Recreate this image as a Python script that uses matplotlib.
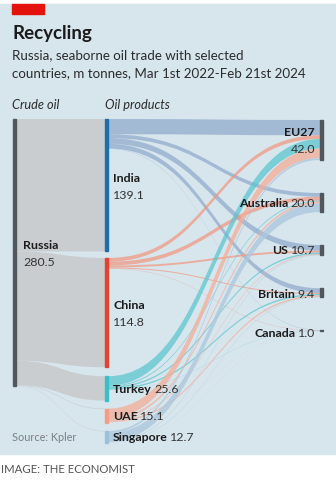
import matplotlib.pyplot as plt
from matplotlib.path import Path
from matplotlib.patches import PathPatch, Rectangle

plt.rcParams['font.family'] = ['Lato', 'DejaVu Sans']

# data (m tonnes)
crude_source = "Russia"
crude_total = 280.5
mid_names = ["India", "China", "Turkey", "UAE", "Singapore"]
mid_values = [139.1, 114.8, 25.6, 15.1, 12.7]
crude_flows = [139.1, 114.8, 25.6, 0.6, 0.4]   # Russia -> each
right_names = ["EU27", "Australia", "US", "Britain", "Canada"]
right_values = [42.0, 20.0, 10.7, 9.4, 1.0]
# product flows: rows = mid_names, cols = right_names
product_flows = [
    [16.0, 4.0, 6.0, 5.0, 0.3],   # India
    [4.0, 4.0, 2.0, 1.0, 0.3],    # China
    [10.0, 1.0, 1.5, 1.5, 0.2],   # Turkey
    [10.0, 2.0, 0.7, 1.5, 0.1],   # UAE
    [2.0, 9.0, 0.5, 0.4, 0.1],    # Singapore
]

# layout (pixel coordinates)
W, H = 336, 485
SCALE = 0.952
TOP = 120
x_left, x_mid, x_right = 13, 105, 320
bar_w = 3
mid_gaps = [6.5, 9, 8, 8]
right_gap = 33

bg = "#d7e5ed"
mid_colors = ["#1f6ea7", "#e2422f", "#3dbec7", "#f39c86", "#9bc0da"]
flow_colors = ["#88a3c8", "#f3947a", "#55c4cd", "#f5ad97", "#adc8dd"]
flow_alpha = [0.65, 0.7, 0.7, 0.75, 0.8]
crude_color = "#c9cdcf"
node_dark = "#51585d"
txt = "#1b1b1b"

fig = plt.figure(figsize=(W / 100, H / 100), dpi=100)
ax = fig.add_axes([0, 0, 1, 1])
ax.set_xlim(0, W)
ax.set_ylim(H, 0)
ax.axis("off")
renderer = fig.canvas.get_renderer()

ax.add_patch(Rectangle((0, 5), W, 450, color=bg, zorder=0))
ax.add_patch(Rectangle((12, 5), 32, 10, color="#e3120b", zorder=1))


def band(x0, y0a, y0b, x1, y1a, y1b, color, alpha, z):
    xm = (x0 + x1) / 2
    verts = [(x0, y0a), (xm, y0a), (xm, y1a), (x1, y1a),
             (x1, y1b), (xm, y1b), (xm, y0b), (x0, y0b), (x0, y0a)]
    codes = [Path.MOVETO, Path.CURVE4, Path.CURVE4, Path.CURVE4,
             Path.LINETO, Path.CURVE4, Path.CURVE4, Path.CURVE4, Path.CLOSEPOLY]
    ax.add_patch(PathPatch(Path(verts, codes), facecolor=color, edgecolor="none",
                           alpha=alpha, zorder=z))


# node positions
mid_tops = [TOP]
for i in range(1, len(mid_values)):
    mid_tops.append(mid_tops[-1] + mid_values[i - 1] * SCALE + mid_gaps[i - 1])
right_tops = [TOP + 1]
for i in range(1, len(right_values)):
    right_tops.append(right_tops[-1] + right_values[i - 1] * SCALE + right_gap)

# crude flows
y = TOP
for i, v in enumerate(crude_flows):
    h = v * SCALE
    band(x_left + bar_w, y, y + h, x_mid, mid_tops[i], mid_tops[i] + h,
         crude_color, 1.0, 1)
    y += h

# product flows
right_cursor = list(right_tops)
for i, row in enumerate(product_flows):
    ys = mid_tops[i]
    for j, v in enumerate(row):
        h = v * SCALE
        band(x_mid + bar_w, ys, ys + h, x_right, right_cursor[j], right_cursor[j] + h,
             flow_colors[i], flow_alpha[i], 2 + i)
        ys += h
        right_cursor[j] += h

# node bars
ax.add_patch(Rectangle((x_left, TOP), bar_w, crude_total * SCALE, color=node_dark, zorder=10))
for i, v in enumerate(mid_values):
    ax.add_patch(Rectangle((x_mid, mid_tops[i]), bar_w, v * SCALE, color=mid_colors[i], zorder=10))
for j, v in enumerate(right_values):
    ax.add_patch(Rectangle((x_right, right_tops[j]), bar_w, max(v * SCALE, 1.2),
                           color=node_dark, zorder=10))

# titles
ax.text(12, 33, "Recycling", fontsize=13.5, fontweight="bold", color=txt, va="center")
ax.text(12, 55, "Russia, seaborne oil trade with selected", fontsize=9.6, color="#2b2b2b", va="center")
ax.text(12, 73, "countries, m tonnes, Mar 1st 2022-Feb 21st 2024", fontsize=9.6,
        color="#2b2b2b", va="center")
ax.text(12, 105, "Crude oil", fontsize=9.2, style="italic", color="#2b2b2b", va="center")
ax.text(105, 105, "Oil products", fontsize=9.2, style="italic", color="#2b2b2b", va="center")

FS = 8.9


def stacked_label(x, ytop, name, value):
    ax.text(x, ytop, name, fontsize=FS, fontweight="bold", color=txt, va="center", zorder=12)
    ax.text(x, ytop + 17, value, fontsize=FS, color="#333333", va="center", zorder=12)


def inline_left(x, yc, name, value):
    t = ax.text(x, yc, name, fontsize=FS, fontweight="bold", color=txt, va="center", zorder=12)
    w = t.get_window_extent(renderer).width
    ax.text(x + w + 2.5, yc, value, fontsize=FS, color="#333333", va="center", zorder=12)


def inline_right(x, yc, name, value):
    t = ax.text(x, yc, value, fontsize=FS, color="#333333", va="center", ha="right", zorder=12)
    w = t.get_window_extent(renderer).width
    ax.text(x - w - 2.5, yc, name, fontsize=FS, fontweight="bold", color=txt,
            va="center", ha="right", zorder=12)


stacked_label(23, 246, crude_source, f"{crude_total:.1f}")
stacked_label(113, 179, mid_names[0], f"{mid_values[0]:.1f}")
stacked_label(113, 306, mid_names[1], f"{mid_values[1]:.1f}")
for i, yc in zip(range(2, 5), [390, 417, 438]):
    inline_left(113, yc, mid_names[i], f"{mid_values[i]:.1f}")

ax.text(315, 133, right_names[0], fontsize=FS, fontweight="bold", color=txt,
        va="center", ha="right", zorder=12)
ax.text(315, 150, f"{right_values[0]:.1f}", fontsize=FS, color="#333333",
        va="center", ha="right", zorder=12)
for j, yc in zip(range(1, 5), [204, 251, 295, 334]):
    inline_right(315, yc, right_names[j], f"{right_values[j]:.1f}")

ax.text(12, 438, "Source: Kpler", fontsize=7.8, color="#7a7f83", va="center")
ax.text(1, 470, "IMAGE: THE ECONOMIST", fontsize=8.2, color="#555555", va="center")

fig.savefig("out.png", dpi=100)
